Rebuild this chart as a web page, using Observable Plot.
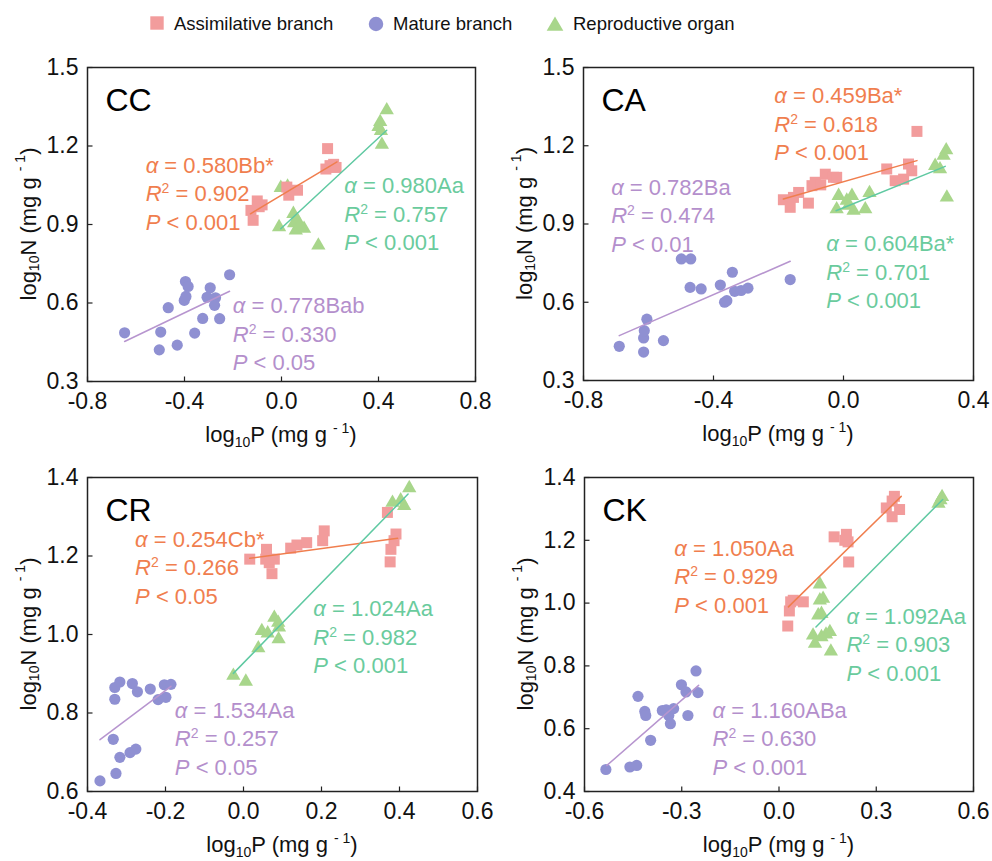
<!DOCTYPE html>
<html><head><meta charset="utf-8">
<script src="https://cdn.jsdelivr.net/npm/d3@7"></script>
<script src="https://cdn.jsdelivr.net/npm/@observablehq/plot@0.6"></script>
<style>
body{margin:0;background:#fff;}
#wrap{position:relative;width:992px;height:861px;background:#fff;font-family:"Liberation Sans",Arial,Helvetica,sans-serif;}
.panel{position:absolute;}
</style></head><body><div id="wrap"></div>
<script>
// ---------- DATA (log10P, log10N) ----------
const seriesNames = ["Assimilative branch", "Mature branch", "Reproductive organ"];
const panelNames = ["CC", "CA", "CR", "CK"];

const ccAssim = [[-0.126,0.954],[-0.117,0.916],[-0.100,0.990],[-0.092,0.968],[-0.080,0.975],[0.022,1.043],[0.030,1.012],[0.066,1.031],[0.183,1.112],[0.190,1.190],[0.200,1.125],[0.215,1.130],[0.225,1.118]];
const ccMature = [[-0.647,0.486],[-0.498,0.489],[-0.504,0.421],[-0.467,0.582],[-0.430,0.439],[-0.396,0.682],[-0.385,0.663],[-0.401,0.610],[-0.394,0.625],[-0.358,0.485],[-0.325,0.541],[-0.294,0.658],[-0.307,0.622],[-0.272,0.620],[-0.276,0.591],[-0.255,0.540],[-0.214,0.708]];
const ccRepro = [[0.434,1.337],[0.407,1.292],[0.400,1.273],[0.410,1.258],[0.414,1.205],[-0.003,1.040],[0.025,1.045],[-0.010,0.890],[0.049,0.941],[0.052,0.905],[0.066,0.916],[0.059,0.878],[0.093,0.884],[0.075,0.895],[0.152,0.820]];
const ccAssimFit = [[-0.128,0.941],[0.229,1.139]];
const ccMatureFit = [[-0.647,0.453],[-0.214,0.645]];
const ccReproFit = [[-0.003,0.884],[0.434,1.260]];
const ccAssimText = ["α = 0.580Bb*", "R2 = 0.902", "P < 0.001"];
const ccMatureText = ["α = 0.778Bab", "R2 = 0.330", "P < 0.05"];
const ccReproText = ["α = 0.980Aa", "R2 = 0.757", "P < 0.001"];

const caAssim = [[-0.185,0.993],[-0.164,0.964],[-0.154,1.002],[-0.138,1.021],[-0.108,0.980],[-0.097,1.047],[-0.087,1.060],[-0.070,1.050],[-0.056,1.091],[-0.031,1.079],[-0.021,1.079],[0.133,1.111],[0.159,1.066],[0.185,1.072],[0.200,1.130],[0.210,1.104],[0.226,1.255]];
const caMature = [[-0.690,0.431],[-0.615,0.409],[-0.615,0.463],[-0.613,0.491],[-0.605,0.535],[-0.554,0.453],[-0.499,0.766],[-0.470,0.766],[-0.472,0.657],[-0.438,0.651],[-0.379,0.666],[-0.366,0.600],[-0.359,0.606],[-0.342,0.715],[-0.335,0.642],[-0.315,0.645],[-0.294,0.654],[-0.164,0.687]];
const caRepro = [[-0.021,0.957],[-0.015,1.008],[0.015,0.970],[0.026,1.008],[0.031,0.951],[0.010,0.990],[0.067,0.957],[0.080,1.019],[0.282,1.123],[0.297,1.110],[0.308,1.162],[0.316,1.183],[0.318,1.002]];
const caAssimFit = [[-0.185,0.996],[0.226,1.143]];
const caMatureFit = [[-0.690,0.472],[-0.164,0.757]];
const caReproFit = [[-0.023,0.951],[0.313,1.121]];
const caAssimText = ["α = 0.459Ba*", "R2 = 0.618", "P < 0.001"];
const caMatureText = ["α = 0.782Ba", "R2 = 0.474", "P < 0.01"];
const caReproText = ["α = 0.604Ba*", "R2 = 0.701", "P < 0.001"];

const crAssim = [[0.016,1.192],[0.059,1.217],[0.057,1.192],[0.066,1.183],[0.073,1.155],[0.079,1.192],[0.121,1.220],[0.137,1.228],[0.162,1.234],[0.203,1.239],[0.207,1.264],[0.369,1.311],[0.391,1.256],[0.386,1.239],[0.378,1.217],[0.376,1.185]];
const crMature = [[-0.368,0.627],[-0.327,0.646],[-0.317,0.687],[-0.334,0.733],[-0.330,0.835],[-0.330,0.865],[-0.317,0.879],[-0.285,0.875],[-0.272,0.854],[-0.291,0.699],[-0.276,0.708],[-0.239,0.861],[-0.219,0.834],[-0.199,0.840],[-0.203,0.872],[-0.186,0.873]];
const crRepro = [[-0.026,0.895],[0.006,0.880],[0.038,0.965],[0.047,1.009],[0.062,1.003],[0.079,1.043],[0.089,1.030],[0.091,1.018],[0.090,0.988],[0.382,1.336],[0.403,1.342],[0.412,1.328],[0.425,1.373]];
const crAssimFit = [[0.016,1.194],[0.395,1.245]];
const crMatureFit = [[-0.368,0.732],[-0.186,0.868]];
const crReproFit = [[-0.026,0.901],[0.422,1.358]];
const crAssimText = ["α = 0.254Cb*", "R2 = 0.266", "P < 0.05"];
const crMatureText = ["α = 1.534Aa", "R2 = 0.257", "P < 0.05"];
const crReproText = ["α = 1.024Aa", "R2 = 0.982", "P < 0.001"];

const ckAssim = [[0.027,0.927],[0.032,0.975],[0.036,1.004],[0.044,1.009],[0.075,1.004],[0.170,1.211],[0.208,1.219],[0.203,1.200],[0.213,1.195],[0.215,1.131],[0.331,1.303],[0.349,1.275],[0.356,1.340],[0.349,1.325],[0.372,1.298]];
const ckMature = [[-0.534,0.470],[-0.460,0.478],[-0.439,0.483],[-0.396,0.563],[-0.435,0.703],[-0.414,0.655],[-0.411,0.642],[-0.360,0.658],[-0.348,0.660],[-0.340,0.642],[-0.335,0.616],[-0.325,0.664],[-0.301,0.740],[-0.287,0.717],[-0.281,0.642],[-0.256,0.784],[-0.250,0.715]];
const ckRepro = [[0.126,1.060],[0.126,1.009],[0.136,1.014],[0.121,0.961],[0.131,0.966],[0.105,0.897],[0.111,0.871],[0.131,0.892],[0.145,0.900],[0.157,0.908],[0.160,0.846],[0.492,1.317],[0.503,1.338],[0.498,1.328]];
const ckAssimFit = [[0.029,0.988],[0.377,1.340]];
const ckMatureFit = [[-0.531,0.483],[-0.248,0.738]];
const ckReproFit = [[0.114,0.924],[0.505,1.330]];
const ckAssimText = ["α = 1.050Aa", "R2 = 0.929", "P < 0.001"];
const ckMatureText = ["α = 1.160ABa", "R2 = 0.630", "P < 0.001"];
const ckReproText = ["α = 1.092Aa", "R2 = 0.903", "P < 0.001"];

const ccXTicks = [-0.8,-0.4,0,0.4,0.8], ccYTicks = [0.3,0.6,0.9,1.2,1.5];
const caXTicks = [-0.8,-0.4,0,0.4],     caYTicks = [0.3,0.6,0.9,1.2,1.5];
const crXTicks = [-0.4,-0.2,0,0.2,0.4,0.6], crYTicks = [0.6,0.8,1.0,1.2,1.4];
const ckXTicks = [-0.6,-0.3,0,0.3,0.6], ckYTicks = [0.4,0.6,0.8,1.0,1.2,1.4];

// ---------- STYLE / LAYOUT ----------
const FONT = '"Liberation Sans", Arial, Helvetica, sans-serif';
const pointFill = ["#F29C9C", "#8F90D2", "#A8D68B"];
const lineColor = ["#F07E4E", "#B795CF", "#5FC9A2"];
const textColor = ["#F07E4E", "#B48FCC", "#6ACB9D"];
const symbols = ["square", "circle", "triangle"];
const radii = [6.2, 5.6, 5.3];
const LINE_GAP = 28.5;
const TICK_FS = 23, NOTE_FS = 22;

const panels = [
  {name:"CC", L:0, T:40, W:496, H:420, ml:87, mr:21, mt:27, mb:79, xd:[-0.8,0.8], yd:[0.3,1.5], xt:ccXTicks, yt:ccYTicks,
   pts:[ccAssim, ccMature, ccRepro], fits:[ccAssimFit, ccMatureFit, ccReproFit], txt:[ccAssimText, ccMatureText, ccReproText],
   anchors:[[-0.560,1.124],[-0.201,0.587],[0.259,1.046]]},
  {name:"CA", L:496, T:40, W:496, H:420, ml:87, mr:19, mt:27, mb:80, xd:[-0.8,0.4], yd:[0.3,1.5], xt:caXTicks, yt:caYTicks,
   pts:[caAssim, caMature, caRepro], fits:[caAssimFit, caMatureFit, caReproFit], txt:[caAssimText, caMatureText, caReproText],
   anchors:[[-0.213,1.389],[-0.715,1.040],[-0.053,0.823]]},
  {name:"CR", L:0, T:450, W:496, H:410, ml:87, mr:19, mt:27, mb:69, xd:[-0.4,0.6], yd:[0.6,1.4], xt:crXTicks, yt:crYTicks,
   pts:[crAssim, crMature, crRepro], fits:[crAssimFit, crMatureFit, crReproFit], txt:[crAssimText, crMatureText, crReproText],
   anchors:[[-0.278,1.241],[-0.176,0.806],[0.179,1.065]]},
  {name:"CK", L:496, T:450, W:496, H:410, ml:88, mr:19, mt:27, mb:69, xd:[-0.6,0.6], yd:[0.4,1.4], xt:ckXTicks, yt:ckYTicks,
   pts:[ckAssim, ckMature, ckRepro], fits:[ckAssimFit, ckMatureFit, ckReproFit], txt:[ckAssimText, ckMatureText, ckReproText],
   anchors:[[-0.323,1.174],[-0.205,0.658],[0.208,0.956]]}
];

const tickUp = {draw(ctx){ ctx.moveTo(0,0); ctx.lineTo(0,-5); }};
const tickRight = {draw(ctx){ ctx.moveTo(0,0); ctx.lineTo(5,0); }};
const fmt = d => d.toFixed(1);
const wrap = document.getElementById("wrap");

function makePanel(p) {
  const marks = [];
  const order = [2, 0, 1];
  for (const s of order) {
    marks.push(Plot.dot(p.pts[s], {x: d => d[0], y: d => d[1], symbol: symbols[s], r: radii[s], fill: pointFill[s], stroke: "none"}));
  }
  for (let s = 0; s < 3; s++) {
    marks.push(Plot.line(p.fits[s], {x: d => d[0], y: d => d[1], stroke: lineColor[s], strokeWidth: 1.5}));
  }
  for (let s = 0; s < 3; s++) {
    p.txt[s].forEach((t, i) => {
      marks.push(Plot.text([t], {x: () => p.anchors[s][0], y: () => p.anchors[s][1], text: d => d, dy: i * LINE_GAP,
        textAnchor: "start", lineAnchor: "middle", fill: textColor[s], fontSize: NOTE_FS}));
    });
  }
  marks.push(Plot.text([p.name], {text: d => d, frameAnchor: "top-left", dx: 18, dy: 33, textAnchor: "start", lineAnchor: "middle", fontSize: 32, fill: "#000"}));
  marks.push(Plot.axisX({ticks: p.xt, tickSize: 0, tickPadding: 11, tickFormat: fmt, fontSize: TICK_FS, fill: "#111", label: null}));
  marks.push(Plot.axisY({ticks: p.yt, tickSize: 0, tickPadding: 9, tickFormat: fmt, fontSize: TICK_FS, fill: "#111", label: null}));
  marks.push(Plot.dot(p.xt, {x: d => d, frameAnchor: "bottom", symbol: tickUp, fill: "none", stroke: "#222", strokeWidth: 1.2}));
  marks.push(Plot.dot(p.yt, {y: d => d, frameAnchor: "left", symbol: tickRight, fill: "none", stroke: "#222", strokeWidth: 1.2}));
  marks.push(Plot.frame({stroke: "#222", strokeWidth: 1.5}));

  const chart = Plot.plot({
    width: p.W, height: p.H,
    marginLeft: p.ml, marginRight: p.mr, marginTop: p.mt, marginBottom: p.mb,
    x: {domain: p.xd}, y: {domain: p.yd},
    style: {fontFamily: FONT, fontSize: "22px", background: "white", overflow: "visible"},
    marks
  });
  const div = document.createElement("div");
  div.className = "panel";
  div.style.left = p.L + "px";
  div.style.top = p.T + "px";
  div.appendChild(chart);
  wrap.appendChild(div);

  const svg = d3.select(chart.tagName.toLowerCase() === "svg" ? chart : chart.querySelector("svg"));
  // rich text for stats
  svg.selectAll("text").each(function() {
    const el = d3.select(this);
    const s = this.textContent;
    let m;
    if ((m = s.match(/^α = (.*)$/))) {
      el.text(null);
      el.append("tspan").attr("font-style", "italic").text("α");
      el.append("tspan").text(" = " + m[1]);
    } else if ((m = s.match(/^R2 = (.*)$/))) {
      el.text(null);
      el.append("tspan").attr("font-style", "italic").text("R");
      el.append("tspan").attr("font-size", 14).attr("dy", -8).text("2");
      el.append("tspan").attr("dy", 8).text(" = " + m[1]);
    } else if ((m = s.match(/^P < (.*)$/))) {
      el.text(null);
      el.append("tspan").attr("font-style", "italic").text("P");
      el.append("tspan").text(" < " + m[1]);
    }
  });
  const fw = p.W - p.ml - p.mr, fh = p.H - p.mt - p.mb;
  // x label
  const xl = svg.append("text").attr("x", p.ml + fw / 2).attr("y", p.H - p.mb + 61)
    .attr("text-anchor", "middle").attr("font-size", 22).attr("fill", "#111").attr("font-family", FONT);
  xl.append("tspan").text("log");
  xl.append("tspan").attr("font-size", 14).attr("dy", 5).text("10");
  xl.append("tspan").attr("dy", -5).text("P (mg g ");
  xl.append("tspan").attr("font-size", 14).attr("dy", -9).text("- 1");
  xl.append("tspan").attr("dy", 9).text(")");
  // y label
  const yx = p.ml - 57, yy = p.mt + fh / 2;
  const yl = svg.append("text").attr("transform", `translate(${yx},${yy}) rotate(-90)`)
    .attr("text-anchor", "middle").attr("dominant-baseline", "middle").attr("font-size", 22).attr("fill", "#111").attr("font-family", FONT);
  yl.append("tspan").text("log");
  yl.append("tspan").attr("font-size", 14).attr("dy", 5).text("10");
  yl.append("tspan").attr("dy", -5).text("N (mg g ");
  yl.append("tspan").attr("font-size", 14).attr("dy", -9).text("- 1");
  yl.append("tspan").attr("dy", 9).text(")");
}

panels.forEach(makePanel);

// ---------- LEGEND ----------
const leg = d3.select(wrap).append("svg").attr("width", 992).attr("height", 44)
  .style("position", "absolute").style("left", "0px").style("top", "0px");
const legSym = [[157, 23], [376, 24], [555, 26]];
const legText = [174, 393, 573];
const legSizes = [180, 165, 120];
const d3sym = [d3.symbolSquare, d3.symbolCircle, d3.symbolTriangle];
seriesNames.forEach((name, i) => {
  leg.append("path").attr("d", d3.symbol(d3sym[i], legSizes[i])())
    .attr("transform", `translate(${legSym[i][0]},${legSym[i][1]})`).attr("fill", pointFill[i]);
  leg.append("text").attr("x", legText[i]).attr("y", 30).attr("font-size", 18.5)
    .attr("font-family", FONT).attr("fill", "#111").text(name);
});
</script></body></html>
